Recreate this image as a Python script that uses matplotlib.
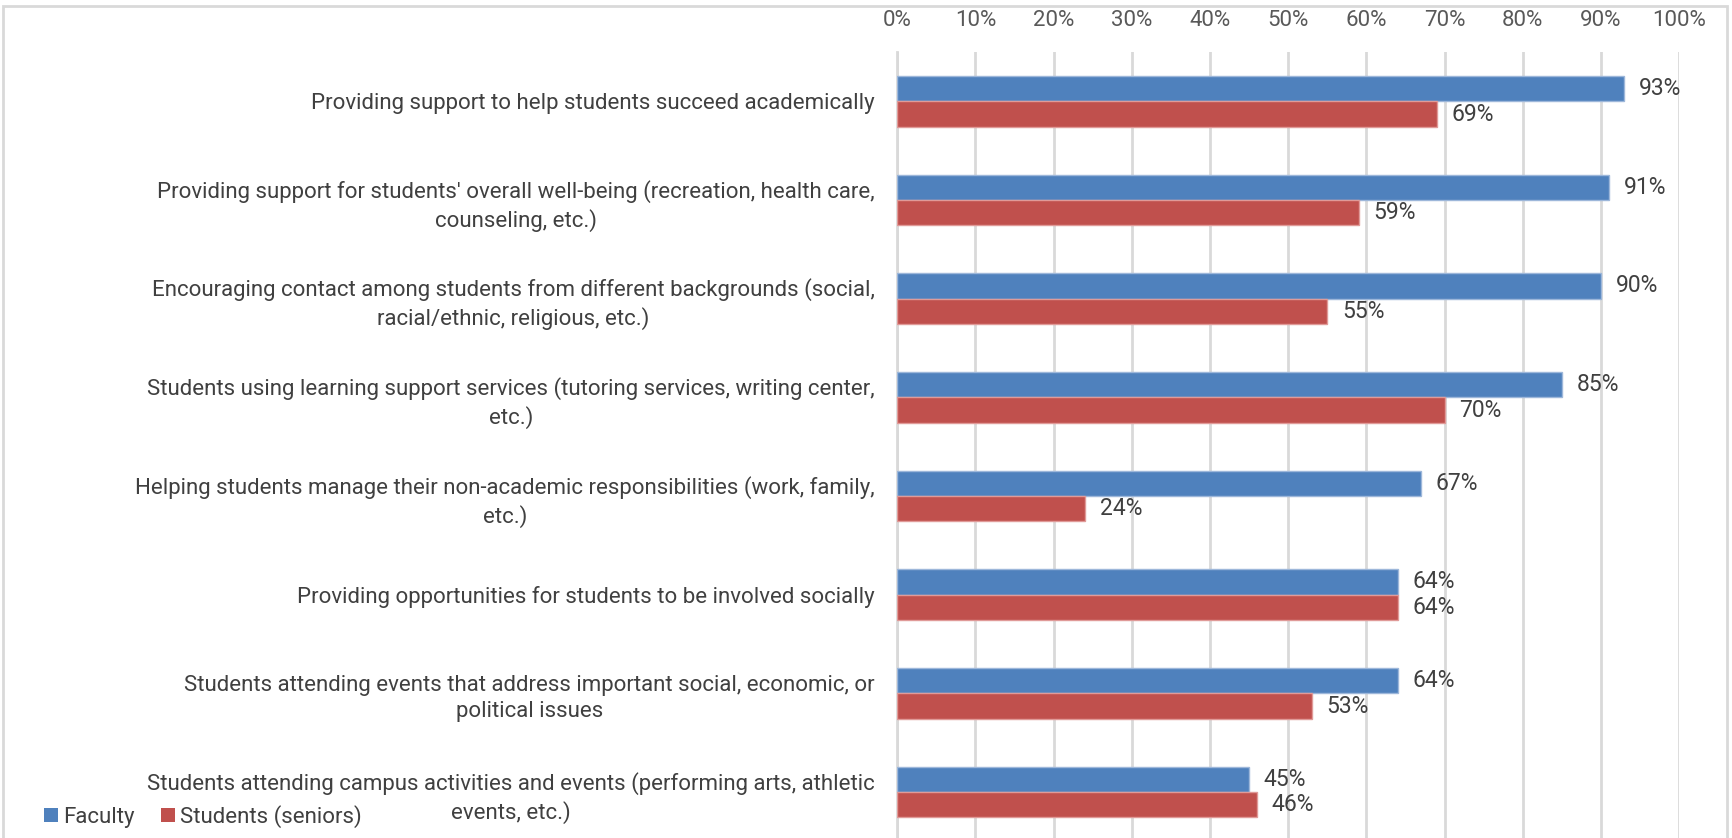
import numpy as np
import matplotlib.pyplot as plt
from matplotlib.patches import Patch, Rectangle

# Données de l'enquête (pourcentages)
categories = [
    "Providing support to help students succeed academically",
    "Providing support for students' overall well-being (recreation, health care,\ncounseling, etc.)",
    "Encouraging contact among students from different backgrounds (social,\nracial/ethnic, religious, etc.)",
    "Students using learning support services (tutoring services, writing center,\netc.)",
    "Helping students manage their non-academic responsibilities (work, family,\netc.)",
    "Providing opportunities for students to be involved socially",
    "Students attending events that address important social, economic, or\npolitical issues",
    "Students attending campus activities and events (performing arts, athletic\nevents, etc.)",
]
faculty = [93, 91, 90, 85, 67, 64, 64, 45]
students = [69, 59, 55, 70, 24, 64, 53, 46]
series_names = ["Faculty", "Students (seniors)"]
xticks = np.arange(0, 101, 10)

blue = "#4F81BD"
red = "#C0504D"
txt = "#404040"
fs = 16

plt.rcParams['font.family'] = ['Roboto', 'DejaVu Sans']

fig = plt.figure(figsize=(17.32, 8.38), dpi=100)
ax = fig.add_axes([0.518, -0.004, 0.4515, 0.942])

y = np.arange(len(categories))
h = 0.258
ax.barh(y - h / 2, faculty, height=h, color=blue, edgecolor="#9DB7DA", linewidth=1, zorder=3)
ax.barh(y + h / 2, students, height=h, color=red, edgecolor="#E09A98", linewidth=1, zorder=3)

# Étiquettes de valeur au bout des barres
for i in range(len(categories)):
    ax.text(faculty[i] + 1.9, y[i] - h / 2, f"{faculty[i]}%", va="center", ha="left",
            fontsize=fs + 0.5, color=txt)
    ax.text(students[i] + 1.9, y[i] + h / 2, f"{students[i]}%", va="center", ha="left",
            fontsize=fs + 0.5, color=txt)

ax.set_xlim(0, 100)
ax.set_ylim(len(categories) - 0.5, -0.5)
ax.xaxis.tick_top()
ax.set_xticks(xticks)
ax.set_xticklabels([f"{t}%" for t in xticks], fontsize=fs, color="#595959")
ax.tick_params(axis="x", length=0, pad=15)
ax.set_yticks(y)
ax.set_yticklabels(categories, fontsize=fs, color=txt)
for lab in ax.get_yticklabels():
    lab.set_multialignment("center")
    lab.set_linespacing(1.35)
ax.tick_params(axis="y", length=0, pad=16)

ax.grid(axis="x", color="#D9D9D9", linewidth=2, zorder=0)
ax.set_axisbelow(True)
for s in ["top", "right", "bottom"]:
    ax.spines[s].set_visible(False)
ax.spines["left"].set_color("#D9D9D9")
ax.spines["left"].set_linewidth(2)

# Légende en bas à gauche
handles = [Patch(facecolor=blue), Patch(facecolor=red)]
fig.legend(handles, series_names, loc="lower left", bbox_to_anchor=(0.014, -0.012),
           ncol=2, frameon=False, fontsize=fs, handlelength=0.6, handleheight=0.6,
           handletextpad=0.25, columnspacing=1.2, labelcolor=txt)

# Cadre du graphique
fig.patches.append(Rectangle((0.002, -0.01), 0.995, 1.003, transform=fig.transFigure,
                             fill=False, edgecolor="#D9D9D9", linewidth=2))

fig.savefig("out.png", dpi=100)
